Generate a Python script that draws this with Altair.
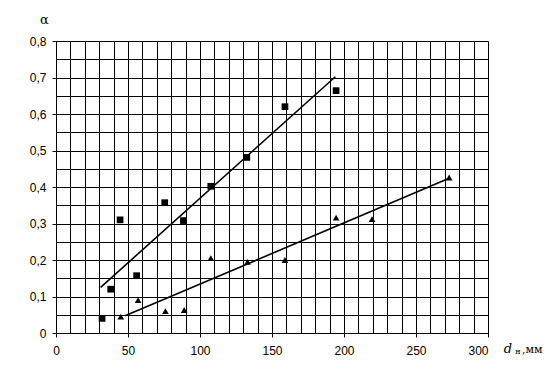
import altair as alt
import pandas as pd

# measured points
sq_x = [32, 38, 44.5, 56, 75.5, 88.5, 107.5, 132.5, 159, 194.5]
sq_y = [0.04, 0.12, 0.31, 0.157, 0.357, 0.308, 0.402, 0.481, 0.62, 0.664]
tri_x = [45, 57, 76, 89, 107.5, 133, 159, 194.5, 219.5, 273]
tri_y = [0.045, 0.09, 0.06, 0.063, 0.205, 0.195, 0.2, 0.316, 0.312, 0.426]
# fitted lines (end points)
sq_fit_x = [31, 194]
sq_fit_y = [0.125, 0.702]
tri_fit_x = [48, 273]
tri_fit_y = [0.047, 0.424]
# axis grids / ticks
x_grid = list(range(0, 301, 10))
y_grid = [round(i * 0.05, 2) for i in range(17)]

FONT = "Liberation Sans"

sq_df = pd.DataFrame({"x": sq_x, "y": sq_y})
tri_df = pd.DataFrame({"x": tri_x, "y": tri_y})
sq_fit = pd.DataFrame({"x": sq_fit_x, "y": sq_fit_y})
tri_fit = pd.DataFrame({"x": tri_fit_x, "y": tri_fit_y})

x_axis = alt.Axis(
    values=x_grid, grid=True, gridColor="black", gridOpacity=1, gridWidth=1,
    domainColor="black", tickColor="black", tickSize=4,
    tickOpacity={"condition": {"test": "datum.value % 50 == 0", "value": 1}, "value": 0},
    labelExpr="datum.value % 50 == 0 ? datum.label : ''",
    labelAlign={"condition": {"test": "datum.value == 300", "value": "right"}, "value": "center"},
    labelOverlap=False, labelPadding=8, labelFont=FONT, labelFontSize=12,
    labelColor="black", title=None,
)
y_axis = alt.Axis(
    values=y_grid, grid=True, gridColor="black", gridOpacity=1, gridWidth=1,
    domainColor="black", tickColor="black", tickSize=4,
    tickOpacity={"condition": {"test": "round(datum.value*100) % 10 == 0", "value": 1}, "value": 0},
    labelExpr="round(datum.value*100) % 10 == 0 ? (datum.value == 0 ? '0' : replace(format(datum.value, '.1f'), '.', ',')) : ''",
    labelOverlap=False, labelPadding=6, labelFont=FONT, labelFontSize=12,
    labelColor="black",
    title="α", titleAngle=0, titleX=-12, titleY=-22, titleAlign="center",
    titleBaseline="middle", titleFont="DejaVu Serif", titleFontSize=13,
    titleFontWeight="normal", titleColor="black",
)

X = alt.X("x:Q", scale=alt.Scale(domain=[0, 300], nice=False), axis=x_axis)
Y = alt.Y("y:Q", scale=alt.Scale(domain=[0, 0.8], nice=False), axis=y_axis)

sq_pts = alt.Chart(sq_df).mark_point(shape="square", filled=True, color="black", size=45, opacity=1).encode(x=X, y=Y)
tri_pts = alt.Chart(tri_df).mark_point(shape="triangle-up", filled=True, color="black", size=45, opacity=1).encode(x=X, y=Y)
sq_line = alt.Chart(sq_fit).mark_line(color="black", strokeWidth=1.6).encode(x=X, y=Y)
tri_line = alt.Chart(tri_fit).mark_line(color="black", strokeWidth=1.6).encode(x=X, y=Y)

one = pd.DataFrame({"t": [""]})
t_d = alt.Chart(one).mark_text(text="d", font="DejaVu Serif", fontStyle="italic", fontSize=13, align="center", baseline="middle", color="black").encode(x=alt.value(452), y=alt.value(16 + 292))
t_n = alt.Chart(one).mark_text(text="н", font="DejaVu Serif", fontSize=8, align="center", baseline="middle", color="black").encode(x=alt.value(462), y=alt.value(19 + 292))
t_mm = alt.Chart(one).mark_text(text=",мм", font="DejaVu Serif", fontSize=11, align="left", baseline="middle", color="black").encode(x=alt.value(466), y=alt.value(17 + 292))

chart = alt.layer(sq_line, tri_line, sq_pts, tri_pts, t_d, t_n, t_mm).properties(
    width=432, height=292,
    autosize=alt.AutoSizeParams(type="none"),
    padding={"left": 48, "top": 33, "right": 56, "bottom": 28},
).configure_view(stroke=None).configure(background="white")

chart.save("out.html", embed_options={"renderer": "svg", "actions": False})
